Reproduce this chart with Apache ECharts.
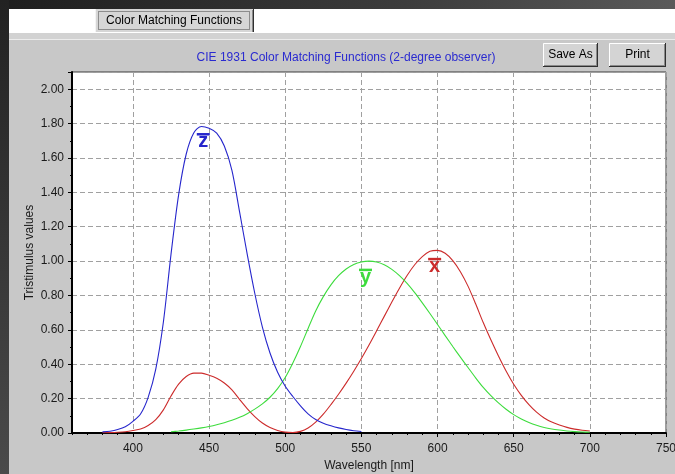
<!DOCTYPE html>
<html><head><meta charset="utf-8">
<script src="https://cdn.jsdelivr.net/npm/echarts@6/dist/echarts.min.js"></script>
<style>html,body{margin:0;padding:0;background:#c8c8c8;overflow:hidden}#c{width:675px;height:474px}</style>
</head><body><div id="c"></div>
<script>
// ---- data (CIE 1931 2-degree colour matching functions) ----
const wavelengths = [380,385,390,395,400,405,410,415,420,425,430,435,440,445,450,455,460,465,470,475,480,485,490,495,500,505,510,515,520,525,530,535,540,545,550,555,560,565,570,575,580,585,590,595,600,605,610,615,620,625,630,635,640,645,650,655,660,665,670,675,680,685,690,695,700];
const xBar = [0.0014,0.0022,0.0042,0.0077,0.0143,0.0232,0.0435,0.0776,0.1344,0.2148,0.2839,0.3285,0.3483,0.3481,0.3362,0.3187,0.2908,0.2511,0.1954,0.1421,0.0956,0.0580,0.0320,0.0147,0.0049,0.0024,0.0093,0.0291,0.0633,0.1096,0.1655,0.2257,0.2904,0.3597,0.4334,0.5121,0.5945,0.6784,0.7621,0.8425,0.9163,0.9786,1.0263,1.0567,1.0622,1.0456,1.0026,0.9384,0.8544,0.7514,0.6424,0.5419,0.4479,0.3608,0.2835,0.2187,0.1649,0.1212,0.0874,0.0636,0.0468,0.0329,0.0227,0.0158,0.0114];
const yBar = [null,null,null,null,null,null,null,null,null,0.0073,0.0116,0.0168,0.0230,0.0298,0.0380,0.0480,0.0600,0.0739,0.0910,0.1126,0.1390,0.1693,0.2080,0.2586,0.3230,0.4073,0.5030,0.6082,0.7100,0.7932,0.8620,0.9149,0.9540,0.9803,0.9950,1.0000,0.9950,0.9786,0.9520,0.9154,0.8700,0.8163,0.7570,0.6949,0.6310,0.5668,0.5030,0.4412,0.3810,0.3210,0.2650,0.2170,0.1750,0.1382,0.1070,0.0816,0.0610,0.0446,0.0320,0.0232,0.0170,0.0119,0.0082,0.0057,0.0041];
const zBar = [0.0065,0.0106,0.0201,0.0362,0.0679,0.1102,0.2074,0.3713,0.6456,1.0391,1.3856,1.6230,1.7471,1.7826,1.7721,1.7441,1.6692,1.5281,1.2876,1.0419,0.8130,0.6162,0.4652,0.3533,0.2720,0.2123,0.1582,0.1117,0.0783,0.0573,0.0422,0.0298,0.0203,0.0134,0.0088,null,null,null,null,null,null,null,null,null,null,null,null,null,null,null,null,null,null,null,null,null,null,null,null,null,null,null,null,null,null];
const xTickValues = [400,450,500,550,600,650,700,750];
const curveNames = ['x', 'y', 'z'];
const titleText = 'CIE 1931 Color Matching Functions (2-degree observer)';
const xAxisName = 'Wavelength [nm]';
const yAxisName = 'Tristimulus values';
const tabText = 'Color Matching Functions';
const buttonTexts = ['Save As', 'Print'];
// annotation anchors (data space: wavelength, value) for the overline letters
const labelWl = [598.1, 552.7, 446.2];
const labelVal = [1.012, 0.949, 1.738];

// ---- styling ----
const colors = {x: '#cc2b2b', y: '#3ddc3d', z: '#2626cc'};
const FONT = '"Liberation Sans", Arial, sans-serif';

const pairs = arr => wavelengths.map((w, i) => [w, arr[i]]);

const chart = echarts.init(document.getElementById('c'), null, {renderer: 'canvas'});

const lineSeries = (name, arr) => ({
  name, type: 'line', data: pairs(arr), xAxisIndex: 0, showSymbol: false, connectNulls: false,
  smooth: 0.3,
  lineStyle: {color: colors[name], width: 1.1}, itemStyle: {color: colors[name]}
});

const option = {
  animation: false,
  backgroundColor: 'transparent',
  textStyle: {fontFamily: FONT},
  title: {
    text: titleText, left: 341, top: 47, textAlign: 'center',
    textStyle: {color: '#2a2ad0', fontSize: 12, fontWeight: 'normal', fontFamily: FONT}
  },
  grid: {
    left: 72, right: 9, top: 72, bottom: 41, outerBoundsMode: 'none', containLabel: false,
    show: true, backgroundColor: '#ffffff', borderColor: '#3a3a3a', borderWidth: 1
  },
  xAxis: [{
    type: 'value', min: 360, max: 750, interval: 10, position: 'bottom',
    name: xAxisName, nameLocation: 'middle', nameGap: 27, nameMoveOverlap: false,
    nameTextStyle: {color: '#1a1a1a', fontSize: 12, fontFamily: FONT},
    axisLine: {show: true, onZero: false, lineStyle: {color: '#000', width: 2}},
    axisTick: {show: true, length: 4, customValues: xTickValues, lineStyle: {color: '#000'}},
    axisLabel: {show: true, customValues: xTickValues, margin: 10, color: '#1a1a1a', fontSize: 12, fontFamily: FONT},
    splitLine: {show: true, lineStyle: {color: '#a0a0a0', type: [5, 3], width: 1}}
  }, {
    type: 'value', min: 360, max: 750, interval: 10, position: 'bottom',
    axisLine: {show: false}, axisLabel: {show: false}, splitLine: {show: false},
    axisTick: {show: true, length: 2, lineStyle: {color: '#000'}}
  }],
  yAxis: {
    type: 'value', min: 0, max: 2.1, interval: 0.2,
    name: yAxisName, nameLocation: 'middle', nameGap: 36, nameMoveOverlap: false,
    nameTextStyle: {color: '#1a1a1a', fontSize: 12, fontFamily: FONT},
    axisLine: {show: true, onZero: false, lineStyle: {color: '#000', width: 2}},
    axisTick: {show: true, length: 4, lineStyle: {color: '#000'}},
    minorTick: {show: true, splitNumber: 2, length: 2, lineStyle: {color: '#000'}},
    axisLabel: {show: true, margin: 8, showMaxLabel: false, color: '#1a1a1a', fontSize: 12, fontFamily: FONT,
      formatter: v => v.toFixed(2)},
    splitLine: {show: true, lineStyle: {color: '#a0a0a0', type: [5, 3], width: 1}}
  },
  series: [lineSeries('x', xBar), lineSeries('y', yBar), lineSeries('z', zBar)]
};
chart.setOption(option);

// ---- window chrome ----
function line(x1, y1, x2, y2, c) {
  return {type: 'line', silent: true, z: -5, shape: {x1, y1, x2, y2}, style: {stroke: c, lineWidth: 1}};
}
function button(x, y, w, h, txt) {
  return [
    {type: 'rect', silent: true, z: -6, shape: {x, y, width: w, height: h}, style: {fill: '#d4d4d4'}},
    line(x + 0.5, y + 0.5, x + w - 0.5, y + 0.5, '#ffffff'),
    line(x + 0.5, y + 0.5, x + 0.5, y + h - 0.5, '#ffffff'),
    line(x, y + h - 0.5, x + w, y + h - 0.5, '#303030'),
    line(x + w - 0.5, y, x + w - 0.5, y + h, '#303030'),
    line(x + 1, y + h - 1.5, x + w - 1, y + h - 1.5, '#8a8a8a'),
    line(x + w - 1.5, y + 1, x + w - 1.5, y + h - 1, '#8a8a8a'),
    {type: 'text', silent: true, z: -4, style: {x: x + w / 2, y: y + h / 2, text: txt, align: 'center', verticalAlign: 'middle',
      fill: '#000', font: '12px ' + FONT}}
  ];
}
const chrome = [
  {type: 'rect', silent: true, z: -10, shape: {x: 0, y: 0, width: 675, height: 9},
    style: {fill: new echarts.graphic.LinearGradient(0, 0, 1, 0, [{offset: 0, color: '#1e1e1e'}, {offset: 0.6, color: '#3c3c3c'}, {offset: 1, color: '#5a5a5a'}])}},
  {type: 'rect', silent: true, z: -10, shape: {x: 0, y: 0, width: 9, height: 474},
    style: {fill: new echarts.graphic.LinearGradient(0, 0, 0, 1, [{offset: 0, color: '#222222'}, {offset: 1, color: '#4a4a4a'}])}},
  {type: 'rect', silent: true, z: -10, shape: {x: 9, y: 9, width: 666, height: 24}, style: {fill: '#ffffff'}},
  {type: 'rect', silent: true, z: -10, shape: {x: 9, y: 33, width: 666, height: 6}, style: {fill: '#d2d2d2'}},
  line(9, 39.5, 675, 39.5, '#ececec'),
  // tab
  {type: 'rect', silent: true, z: -6, shape: {x: 95, y: 9, width: 159, height: 23}, style: {fill: '#d6d6d6'}},
  line(95.5, 9, 95.5, 32, '#f4f4f4'),
  line(253.5, 9, 253.5, 32, '#303030'),
  line(252.5, 10, 252.5, 32, '#8a8a8a'),
  {type: 'rect', silent: true, z: -5, shape: {x: 98.5, y: 11.5, width: 151, height: 18},
    style: {fill: null, stroke: '#444', lineWidth: 1, lineDash: [1, 1]}},
  {type: 'text', silent: true, z: -4, style: {x: 174, y: 20.5, text: tabText, align: 'center', verticalAlign: 'middle',
    fill: '#000', font: '12px ' + FONT}}
].concat(button(543, 43, 55, 24, buttonTexts[0]), button(609, 43, 57, 24, buttonTexts[1]));

// ---- overline letters at curve peaks ----
const labels = [];
curveNames.forEach((n, i) => {
  const p = chart.convertToPixel({xAxisIndex: 0, yAxisIndex: 0}, [labelWl[i], labelVal[i]]);
  labels.push({type: 'rect', silent: true, z: 10, shape: {x: p[0] - 6.5, y: p[1] - 1.2, width: 13, height: 2.5}, style: {fill: colors[n]}});
  labels.push({type: 'text', silent: true, z: 10, style: {x: p[0], y: p[1] + 7.5, text: n, align: 'center', verticalAlign: 'middle',
    fill: colors[n], font: 'bold 20px ' + FONT}});
});

chart.setOption({graphic: {elements: chrome.concat(labels)}});
</script>
</body></html>
